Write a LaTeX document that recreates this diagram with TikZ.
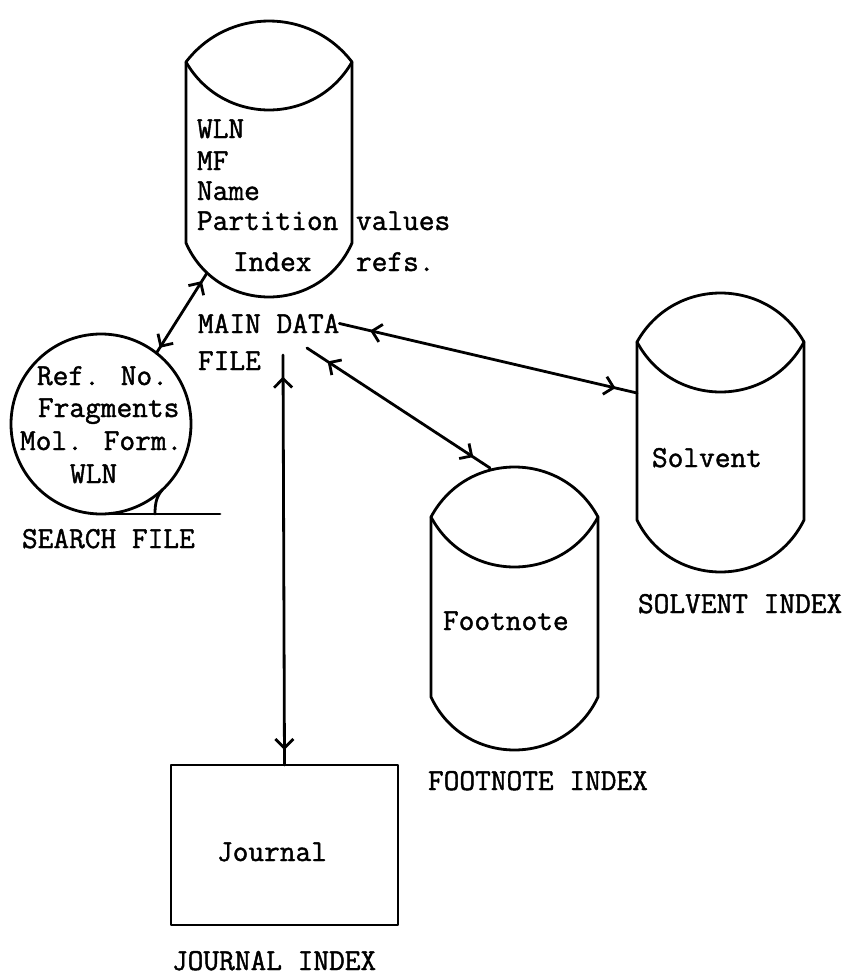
\documentclass[tikz,border=0pt]{standalone}
\usepackage{fontspec}
\newfontfamily\typer[FakeBold=1.4]{Latin Modern Mono}
\usetikzlibrary{arrows.meta,decorations.markings,calc}

% control offsets of a cubic that follows a circular arc over a chord of
% half width #1 with rise #2
\newcommand\arcctl[2]{%
  \pgfmathsetmacro\arcR{(#1*#1+#2*#2)/(2*#2)}%
  \pgfmathsetmacro\arcPhi{asin(#1/\arcR)}%
  \pgfmathsetmacro\arcD{4/3*tan(\arcPhi/2)*\arcR}%
  \pgfmathsetmacro\arcDx{\arcD*cos(\arcPhi)}%
  \pgfmathsetmacro\arcDy{\arcD*sin(\arcPhi)}%
}
% drum (disk file): name, centre x, half width, top rim y, bottom rim y,
% rise of the top cap, dip of the front rim, dip of the bottom
\newcommand\drawdrum[8]{%
  \node[inner sep=0pt, outer sep=0pt, minimum width={2*#3}, minimum height={#5-#4}] (#1) at (#2,{(#4+#5)/2}) {};
  \arcctl{#3}{#6}\let\tdx\arcDx\let\tdy\arcDy
  \arcctl{#3}{#8}\let\bdx\arcDx\let\bdy\arcDy
  \draw[ln] (#1.south west) -- (#1.north west)
     .. controls +(\tdx,-\tdy) and +(-\tdx,-\tdy) .. (#1.north east)
     -- (#1.south east)
     .. controls +(-\bdx,\bdy) and +(\bdx,\bdy) .. (#1.south west) -- cycle;
  \arcctl{#3}{#7}
  \draw[ln] (#1.north west) .. controls +(\arcDx,\arcDy) and +(-\arcDx,\arcDy) .. (#1.north east);
}

\tikzset{
  ln/.style={line width=2.8pt, line join=round, line cap=round},
  txt/.style={font=\fontsize{30.5}{36}\typer, inner sep=0pt, outer sep=0pt, anchor=base west},
  >={Straight Barb[length=9pt,width=18pt]},
  link/.style 2 args={ln, postaction={decorate},
    decoration={markings,
      mark=at position #1 with {\arrow{<}},
      mark=at position -#2 with {\arrow{>}}}},
}

\begin{document}
\begin{tikzpicture}[x=1pt, y=-1pt]
\useasboundingbox (0,0) rectangle (850,977);

% main data file
\drawdrum{main}{269}{83}{62}{243}{41}{48}{54}
\node[txt] (mwln) at (197,138) {WLN};
\node[txt] (mmf) at (197,170) {MF};
\node[txt] (mname) at (197,200) {Name};
\node[txt] (mpart) at (197,230) {Partition};
\node[txt] (mindex) at (233,271) {Index};
\node[txt] (mvalues) at (356,230) {values};
\node[txt] (mrefs) at (356,271) {refs.};
\node[txt] (mdf1) at (198,333) {MAIN DATA};
\node[txt] (mdf2) at (198,370) {FILE};

% search file
\node[circle, draw, ln, minimum size=180pt, inner sep=0pt, outer sep=0pt] (search) at (101,424) {};
\coordinate (tailfoot) at (155,514);
\coordinate (sbase) at (220,514);
\draw[ln] (search.-47) .. controls (157,496) and (155,502) .. (tailfoot);
\draw[ln] (search.south) -- (sbase);
\node[txt] (sref) at (37,385) {Ref. No.};
\node[txt] (sfrag) at (38,417) {Fragments};
\node[txt] (smol) at (20,450) {Mol. Form.};
\node[txt] (swln) at (70,483) {WLN};
\node[txt] (slabel) at (22,548) {SEARCH FILE};

% solvent index
\drawdrum{solvent}{720.5}{83.5}{342}{520}{49}{50}{52}
\node[txt] (solvtxt) at (652,467) {Solvent};
\node[txt] (solvlabel) at (638,613) {SOLVENT INDEX};

% footnote index
\drawdrum{foot}{514.5}{83.5}{517}{697}{50}{50}{53}
\node[txt] (foottxt) at (443,630) {Footnote};
\node[txt] (footlabel) at (428,790) {FOOTNOTE INDEX};

% journal index
\node[draw, ln, minimum width=227pt, minimum height=160pt, inner sep=0pt, outer sep=0pt] (journal) at (284.5,845) {};
\node[txt] (jtxt) at (217,861) {Journal};
\node[txt] (jlabel) at (172,970) {JOURNAL INDEX};

% connector ends
\coordinate (mainfoot) at (207,273);
\coordinate (mdfF) at (307,348);
\coordinate (mdfV) at (283,355);
\coordinate (solvA) at ($(solvent.north west)+(0,51)$);
\coordinate (footA) at (490,468);

% connectors
\draw[link={22pt}{6pt}] (mainfoot) -- (search.52);
\draw[link={44pt}{22pt}] (mdf1.east) -- (solvA);
\draw[link={37pt}{20pt}] (mdfF) -- (footA);
\draw[link={34pt}{15pt}] (mdfV) -- (journal.north);
\end{tikzpicture}
\end{document}
